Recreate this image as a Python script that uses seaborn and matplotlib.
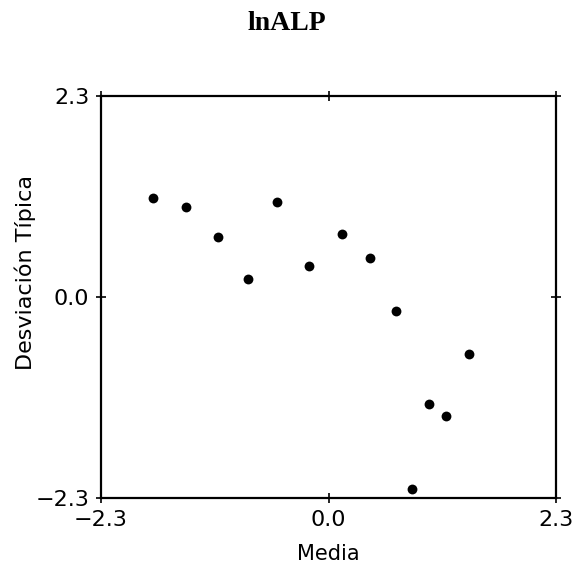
import numpy as np
import pandas as pd
import matplotlib
matplotlib.use("Agg")
import matplotlib.pyplot as plt
import seaborn as sns

# values
media = [-1.777, -1.444, -1.114, -0.811, -0.523, -0.197, 0.134, 0.417,
         0.686, 1.418, 1.013, 1.191, 0.845]
desviacion = [1.130, 1.027, 0.690, 0.206, 1.084, 0.355, 0.721, 0.443,
              -0.160, -0.649, -1.224, -1.361, -2.197]
tick_vals = [-2.3, 0.0, 2.3]
tick_labels = ["\u22122.3", "0.0", "2.3"]

df = pd.DataFrame({"Media": media, "Desviacion": desviacion})

sns.set_style("white")
plt.rcParams["font.family"] = ["DejaVu Sans"]
plt.rcParams["text.color"] = "black"
plt.rcParams["axes.labelcolor"] = "black"

fig = plt.figure(figsize=(5.81, 5.77), dpi=100)
ax = fig.add_axes([101 / 581, 1 - 498 / 577, 455 / 581, 402 / 577])

sns.scatterplot(data=df, x="Media", y="Desviacion", ax=ax,
                color="black", s=50, edgecolor="black", linewidth=0)

ax.set_xlim(-2.3, 2.3)
ax.set_ylim(-2.3, 2.3)
ax.set_xticks(tick_vals)
ax.set_xticklabels(tick_labels)
ax.set_yticks(tick_vals)
ax.set_yticklabels(tick_labels)
ax.tick_params(direction="inout", length=7, width=1.2, labelsize=16,
               colors="black", top=True, right=True, bottom=True, left=True,
               labeltop=False, labelright=False, pad=5)

for sp in ax.spines.values():
    sp.set_visible(True)
    sp.set_color("black")
    sp.set_linewidth(1.6)

ax.set_xlabel("Media", fontsize=15, labelpad=10, color="black")
ax.set_ylabel("")
fig.text(25 / 581, 1 - 273 / 577, "Desviación Típica", rotation=90,
         fontsize=16, ha="center", va="center", color="black")
fig.text(287 / 581, 1 - 23 / 577, "lnALP", fontsize=20, fontweight="bold",
         family="Liberation Serif", ha="center", va="center", color="black")

fig.savefig("out.png", dpi=100, facecolor="white")
